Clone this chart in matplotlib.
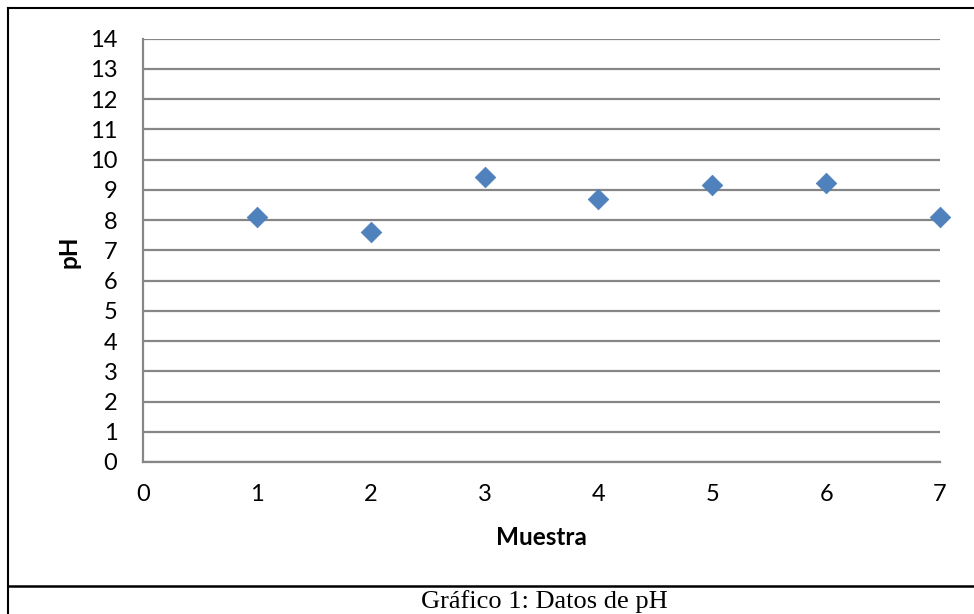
import matplotlib.pyplot as plt
from matplotlib.lines import Line2D

# pH per sample
muestras = [1, 2, 3, 4, 5, 6, 7]
ph_values = [8.10, 7.60, 9.41, 8.71, 9.16, 9.21, 8.10]
x_ticks = [0, 1, 2, 3, 4, 5, 6, 7]
y_ticks = list(range(0, 15))

W, H = 974, 614
fig = plt.figure(figsize=(W / 100, H / 100), dpi=100)

# plot area in pixel coordinates
left, right, top, bottom = 143, 940, 38.6, 462
ax = fig.add_axes([left / W, 1 - bottom / H, (right - left) / W, (bottom - top) / H])

ax.scatter(muestras, ph_values, marker="D", s=110, color="#4F81BD",
           edgecolors="#4A7EBB", linewidths=0.5, zorder=3, clip_on=False)

ax.set_xlim(0, 7)
ax.set_ylim(0, 14)
ax.set_xticks(x_ticks)
ax.set_yticks(y_ticks)
ax.yaxis.grid(True, color="#868686", linewidth=1.6)
ax.set_axisbelow(True)

for side in ["top", "right"]:
    ax.spines[side].set_visible(False)
for side in ["left", "bottom"]:
    ax.spines[side].set_color("#868686")
    ax.spines[side].set_linewidth(1.6)

ax.tick_params(length=0, labelsize=17)
ax.tick_params(axis="y", pad=18.5)
ax.tick_params(axis="x", pad=16)
for lab in ax.get_xticklabels() + ax.get_yticklabels():
    lab.set_fontfamily("Lato")

fig.text(541.5 / W, 1 - 537.5 / H, "Muestra", ha="center", va="center",
         fontsize=17.5, fontweight="bold", family="Lato")
fig.text(69 / W, 1 - 252 / H, "pH", ha="center", va="center", rotation=90,
         fontsize=17.5, fontweight="bold", family="Lato")

# document frame lines
fig.add_artist(Line2D([8 / W, 8 / W], [0, 1 - 8 / H], transform=fig.transFigure,
                      color="black", linewidth=1.5))
fig.add_artist(Line2D([8 / W, 1], [1 - 8 / H, 1 - 8 / H], transform=fig.transFigure,
                      color="black", linewidth=1.5))
fig.add_artist(Line2D([8 / W, 1], [1 - 585.7 / H, 1 - 585.7 / H], transform=fig.transFigure,
                      color="black", linewidth=1.8))

fig.text(544 / W, 1 - 602 / H, "Gráfico 1: Datos de pH", ha="center", va="center",
         fontsize=19, family="Liberation Serif")

fig.savefig("out.png", dpi=100)
